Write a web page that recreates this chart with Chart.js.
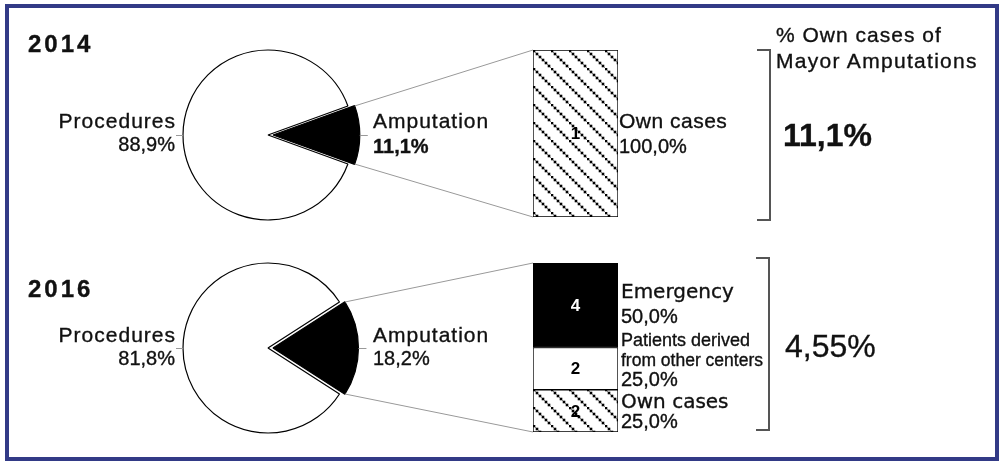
<!DOCTYPE html>
<html>
<head>
<meta charset="utf-8">
<script src="https://cdn.jsdelivr.net/npm/chart.js@4.4.0/dist/chart.umd.min.js"></script>
<style>
  html, body { margin: 0; padding: 0; background: #fff; }
  #fig { position: relative; width: 1003px; height: 464px; overflow: hidden; font-family: "Liberation Sans", Arial, sans-serif; color: #111; }
  #frame { position: absolute; left: 5px; top: 4px; width: 994px; height: 457px; box-sizing: border-box; border: 4px solid #323a86; }
  canvas { position: absolute; }
  .t { position: absolute; white-space: nowrap; line-height: 1; -webkit-text-stroke: 0.35px #111; }
</style>
</head>
<body>
<div id="fig">
  <div id="frame"></div>
  <canvas id="pie14" width="200" height="200" style="left:168px;top:35px"></canvas>
  <canvas id="pie16" width="200" height="200" style="left:168px;top:248px"></canvas>
  <canvas id="bar14" width="85" height="167" style="left:533px;top:50px"></canvas>
  <canvas id="bar16" width="85" height="169" style="left:533px;top:263px"></canvas>
  <canvas id="lines" width="1003" height="464" style="left:0;top:0"></canvas>
</div>
<script>
const years = ['2014', '2016'];
const pieLabels = ['Procedures', 'Amputation'];
const pie2014 = [88.9, 11.1];
const pie2016 = [81.8, 18.2];

const bar2014Labels = ['Own cases'];
const bar2014 = [1];
const bar2014Pct = [100.0];

// top to bottom, as in the picture
const bar2016Labels = ['Emergency', 'Patients derived from other centers', 'Own cases'];
const bar2016 = [4, 2, 2];
const bar2016Pct = [50.0, 25.0, 25.0];

const ownTitle = ['% Own cases of', 'Mayor Amputations'];
const ownShare = [11.1, 4.55];

const fig = document.getElementById('fig');
const fmt = (v, d = 1) => v.toFixed(d).replace('.', ',') + '%';

// dotted diagonal hatch for "Own cases"
function hatch() {
    const c = document.createElement('canvas');
    c.width = 18; c.height = 18;
    const g = c.getContext('2d');
    g.fillStyle = '#fff';
    g.fillRect(0, 0, 18, 18);
    g.strokeStyle = '#777';
    g.lineWidth = 0.8;
    g.beginPath();
    g.moveTo(-2, -2);
    g.lineTo(20, 20);
    g.stroke();
    g.fillStyle = '#000';
    for (let i = 0; i < 18; i += 3) g.fillRect(i - 0.3, i - 0.3, 2.6, 2.6);
    return g.createPattern(c, 'repeat');
}
const hatchFill = hatch();

const noUi = { legend: { display: false }, tooltip: { enabled: false } };

function makePie(id, values) {
    const amp = values[1] / (values[0] + values[1]) * 360;
    return new Chart(document.getElementById(id), {
        type: 'pie',
        data: {
            labels: pieLabels,
            datasets: [{
                data: values,
                backgroundColor: ['#fff', '#000'],
                borderColor: '#000',
                borderWidth: 1.2,
                offset: [0, 20],
                radius: 85
            }]
        },
        options: {
            responsive: false,
            animation: false,
            rotation: 90 + amp / 2,
            layout: { padding: 0 },
            plugins: noUi
        }
    });
}

const barNumbers = {
    id: 'barNumbers',
    afterDatasetsDraw(chart) {
        const ctx = chart.ctx;
        ctx.save();
        ctx.font = 'bold 17px "Liberation Sans", Arial, sans-serif';
        ctx.textAlign = 'center';
        ctx.textBaseline = 'middle';
        chart.data.datasets.forEach((ds, i) => {
            chart.getDatasetMeta(i).data.forEach((el, j) => {
                ctx.fillStyle = ds.numberColor;
                ctx.fillText(String(ds.data[j]), el.x, (el.y + el.base) / 2 + 1);
            });
        });
        ctx.restore();
    }
};

function makeBar(id, labels, values, fills, numColors) {
    // stacked from the bottom up, so reverse the top-to-bottom lists
    const ds = labels.map((l, i) => ({
        label: l,
        data: [values[i]],
        backgroundColor: fills[i],
        borderColor: '#000',
        borderWidth: 1,
        borderSkipped: false,
        numberColor: numColors[i]
    })).reverse();
    const total = values.reduce((a, b) => a + b, 0);
    return new Chart(document.getElementById(id), {
        type: 'bar',
        data: { labels: [''], datasets: ds },
        options: {
            responsive: false,
            animation: false,
            layout: { padding: 0 },
            datasets: { bar: { barPercentage: 1, categoryPercentage: 1 } },
            scales: {
                x: { display: false, stacked: true },
                y: { display: false, stacked: true, min: 0, max: total }
            },
            plugins: noUi
        },
        plugins: [barNumbers]
    });
}

const p14 = makePie('pie14', pie2014);
const p16 = makePie('pie16', pie2016);
const b14 = makeBar('bar14', bar2014Labels, bar2014, [hatchFill], ['#000']);
const b16 = makeBar('bar16', bar2016Labels, bar2016, ['#000', '#fff', hatchFill], ['#fff', '#000', '#000']);

// geometry of the exploded slice, in page coordinates
function slice(chart) {
    const cv = chart.canvas;
    const el = chart.getDatasetMeta(0).data[1];
    const circ = el.endAngle - el.startAngle;
    const off = (el.options.offset || 0) / 4;
    const shift = off + off * (1 - Math.sin(Math.min(Math.PI, circ)));
    const mid = (el.startAngle + el.endAngle) / 2;
    const px = cv.offsetLeft + el.x, py = cv.offsetTop + el.y;
    const cx = px + Math.cos(mid) * shift, cy = py + Math.sin(mid) * shift;
    const R = el.outerRadius;
    return {
        px, py, R, cx, cy,
        top: [cx + R * Math.cos(el.startAngle), cy + R * Math.sin(el.startAngle)],
        bot: [cx + R * Math.cos(el.endAngle), cy + R * Math.sin(el.endAngle)]
    };
}
function barBox(chart) {
    const cv = chart.canvas;
    const metas = chart.data.datasets.map((d, i) => chart.getDatasetMeta(i).data[0]);
    const first = metas[0], last = metas[metas.length - 1];
    return {
        left: cv.offsetLeft + first.x - first.width / 2,
        right: cv.offsetLeft + first.x + first.width / 2,
        top: cv.offsetTop + last.y,
        bottom: cv.offsetTop + first.base
    };
}

const g = document.getElementById('lines').getContext('2d');
function line(x1, y1, x2, y2, color, w) {
    g.strokeStyle = color;
    g.lineWidth = w;
    g.beginPath();
    g.moveTo(x1, y1);
    g.lineTo(x2, y2);
    g.stroke();
}
function bracket(x, y1, y2) {
    g.strokeStyle = '#555';
    g.lineWidth = 2;
    g.beginPath();
    g.moveTo(x - 13, y1);
    g.lineTo(x, y1);
    g.lineTo(x, y2);
    g.lineTo(x - 13, y2);
    g.stroke();
}

[[p14, b14], [p16, b16]].forEach(([p, b]) => {
    const s = slice(p), bb = barBox(b);
    line(s.top[0], s.top[1], bb.left, bb.top, '#999', 1);
    line(s.bot[0], s.bot[1], bb.left, bb.bottom, '#999', 1);
    line(s.px - s.R - 7, s.py + 0.5, s.px - s.R, s.py + 0.5, '#999', 1);
    line(s.cx + s.R, s.cy + 0.5, s.cx + s.R + 8, s.cy + 0.5, '#999', 1);
});
bracket(770, 50, 220);
bracket(769, 258, 430);

function put(txt, x, base, size, o = {}) {
    const d = document.createElement('div');
    d.className = 't';
    d.textContent = txt;
    d.style.fontSize = size + 'px';
    d.style.top = (base - 0.85 * size) + 'px';
    if (o.right) d.style.right = (1003 - x) + 'px';
    else d.style.left = x + 'px';
    if (o.bold) d.style.fontWeight = 'bold';
    if (o.ls) d.style.letterSpacing = o.ls + 'px';
    if (o.font) d.style.fontFamily = o.font;
    fig.appendChild(d);
}
const wide = '"DejaVu Sans", sans-serif';

// 2014
put(years[0], 28, 52, 24, { bold: true, ls: 3 });
put(pieLabels[0], 176, 128, 21, { right: true, ls: 1 });
put(fmt(pie2014[0]), 175, 151, 20, { right: true });
put(pieLabels[1], 373, 128, 21, { ls: 1 });
put(fmt(pie2014[1]), 373, 153, 20, { bold: true });
put(bar2014Labels[0], 619, 128, 21, { ls: 0.5 });
put(fmt(bar2014Pct[0]), 619, 153, 20);
put(ownTitle[0], 776, 42, 21, { ls: 1 });
put(ownTitle[1], 776, 68, 21, { ls: 1.3 });
put(fmt(ownShare[0]), 783, 146, 32, { bold: true });

// 2016
put(years[1], 28, 297, 24, { bold: true, ls: 3 });
put(pieLabels[0], 176, 342, 21, { right: true, ls: 1 });
put(fmt(pie2016[0]), 175, 365, 20, { right: true });
put(pieLabels[1], 373, 342, 21, { ls: 1 });
put(fmt(pie2016[1]), 373, 365, 20);
put(bar2016Labels[0], 621, 298, 20, { font: wide });
put(fmt(bar2016Pct[0]), 621, 323, 20);
put('Patients derived', 621, 346, 18);
put('from other centers', 621, 367, 17.5);
put(fmt(bar2016Pct[1]), 621, 386, 20);
put(bar2016Labels[2], 621, 408, 20, { font: wide });
put(fmt(bar2016Pct[2]), 621, 428, 20);
put(fmt(ownShare[1], 2), 785, 357, 32);
</script>
</body>
</html>
